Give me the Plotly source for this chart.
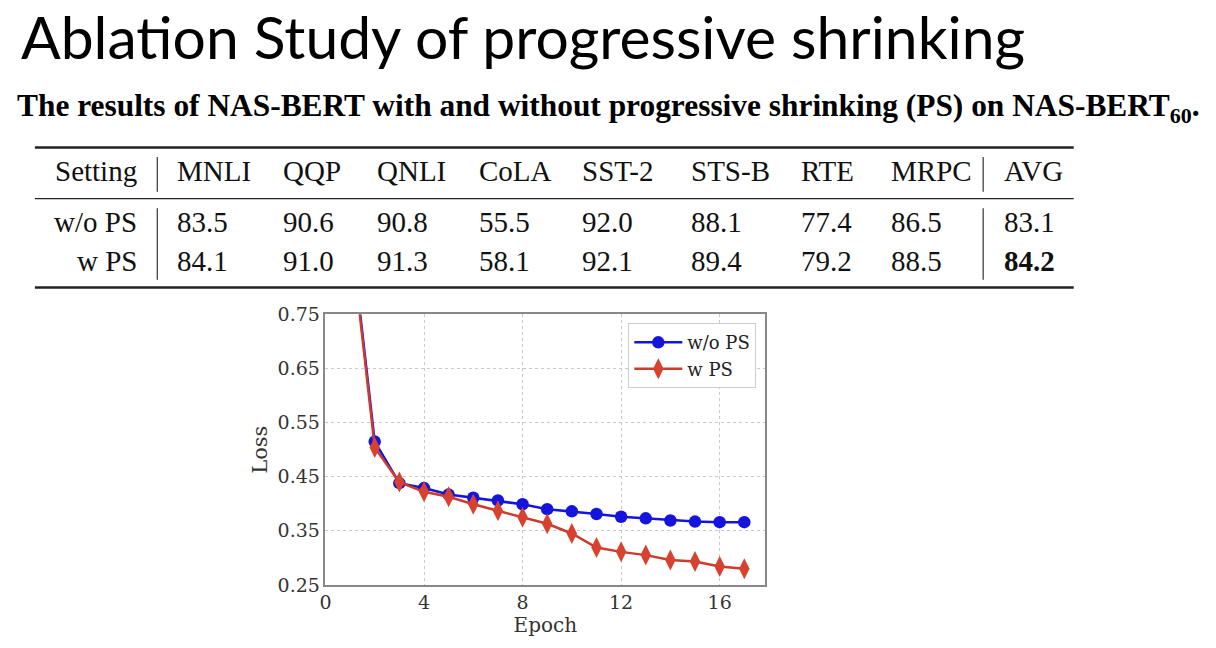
import plotly.graph_objects as go

# =========================
# DADES
# =========================
epochs = list(range(1, 18))
loss_wo_ps = [0.915, 0.515, 0.438, 0.429, 0.417, 0.411, 0.406, 0.399, 0.390,
              0.386, 0.381, 0.376, 0.373, 0.369, 0.367, 0.366, 0.366]
loss_w_ps = [0.910, 0.504, 0.440, 0.422, 0.413, 0.399, 0.387, 0.375, 0.363,
             0.345, 0.319, 0.311, 0.305, 0.296, 0.293, 0.284, 0.280]

table_tasks = ["MNLI", "QQP", "QNLI", "CoLA", "SST-2", "STS-B", "RTE", "MRPC", "AVG"]
row_names = ["w/o PS", "w PS"]
scores_wo_ps = ["83.5", "90.6", "90.8", "55.5", "92.0", "88.1", "77.4", "86.5", "83.1"]
scores_w_ps = ["84.1", "91.0", "91.3", "58.1", "92.1", "89.4", "79.2", "88.5", "84.2"]

# la pàgina té 8px de marge al body: la figura omple la resta de la finestra
W, H = 1208, 640
OFF = 8
SERIF = "Liberation Serif"
MPL = "DejaVu Serif"


def px_x(v):
    return (v - OFF) / W


def px_y(v):
    return 1 - (v - OFF) / H


# =========================
# GRÀFIC
# =========================
fig = go.Figure()

fig.add_trace(go.Scatter(
    x=epochs, y=loss_wo_ps, name="w/o PS", mode="lines+markers",
    line=dict(color="#1414dc", width=2.5),
    marker=dict(symbol="circle", size=12.5, color="#1414dc"),
))
fig.add_trace(go.Scatter(
    x=epochs, y=loss_w_ps, name="w PS", mode="lines+markers",
    line=dict(color="#cc3b2c", width=2.5),
    marker=dict(symbol="diamond-tall", size=15, color="#d8412f"),
))

grid = dict(showgrid=True, gridcolor="#c8c8c8", griddash="3px,3px", gridwidth=1,
            showline=True, linecolor="#888", linewidth=1.5, mirror=True,
            zeroline=False, ticks="")

fig.update_xaxes(
    domain=[px_x(321), px_x(763)], range=[0, 17.85],
    tickvals=[0, 4, 8, 12, 16], tickfont=dict(family=MPL, size=19, color="#333"),
    title=dict(text="Epoch", font=dict(family=MPL, size=20, color="#333"), standoff=0),
    **grid,
)
fig.update_yaxes(
    domain=[px_y(594), px_y(314)], range=[0.25, 0.75],
    tickvals=[0.25, 0.35, 0.45, 0.55, 0.65, 0.75], tickformat=".2f",
    tickfont=dict(family=MPL, size=19, color="#333"),
    title=dict(text="Loss", font=dict(family=MPL, size=21, color="#333"), standoff=4),
    **grid,
)

# =========================
# TÍTOL I TAULA
# =========================
ann = []
ann.append(dict(x=px_x(13), y=px_y(26), text="Ablation Study of progressive shrinking",
                xanchor="left", yanchor="middle",
                font=dict(family="Lato", size=58.8, color="#000")))
ann.append(dict(x=px_x(9), y=px_y(100),
                text="<b>The results of NAS-BERT with and without progressive shrinking (PS) "
                     "on NAS-BERT<sub>60</sub>.</b>",
                xanchor="left", yanchor="middle",
                font=dict(family=SERIF, size=31.4, color="#000")))

col_x = [170, 276, 371, 473, 577, 686, 797, 887, 1001]
row_y = [165, 218, 259]
cell_font = dict(family=SERIF, size=29, color="#111")

ann.append(dict(x=px_x(134), y=px_y(row_y[0]), text="Setting", xanchor="right",
                yanchor="middle", font=cell_font))
for cx, task in zip(col_x, table_tasks):
    ann.append(dict(x=px_x(cx), y=px_y(row_y[0]), text=task, xanchor="left",
                    yanchor="middle", font=cell_font))

for ry, name, vals in zip(row_y[1:], row_names, [scores_wo_ps, scores_w_ps]):
    ann.append(dict(x=px_x(134), y=px_y(ry), text=name, xanchor="right",
                    yanchor="middle", font=cell_font))
    for cx, v in zip(col_x, vals):
        txt = v
        if name == "w PS" and cx == col_x[-1]:
            txt = "<b>" + v + "</b>"
        ann.append(dict(x=px_x(cx), y=px_y(ry), text=txt, xanchor="left",
                        yanchor="middle", font=cell_font))

for a in ann:
    a.update(xref="paper", yref="paper", showarrow=False)

shapes = []
for yy, w in [(141, 2.5), (194, 1.3), (286, 2.5)]:
    shapes.append(dict(type="line", xref="paper", yref="paper",
                       x0=px_x(29), x1=px_x(1073), y0=px_y(yy), y1=px_y(yy),
                       line=dict(color="#222", width=w)))
for xx in [152, 982]:
    for y0, y1 in [(151, 187), (204, 278)]:
        shapes.append(dict(type="line", xref="paper", yref="paper",
                           x0=px_x(xx), x1=px_x(xx), y0=px_y(y0), y1=px_y(y1),
                           line=dict(color="#333", width=1.2)))

fig.update_layout(
    width=W, height=H, margin=dict(l=0, r=0, t=0, b=0),
    paper_bgcolor="white", plot_bgcolor="white",
    annotations=ann, shapes=shapes,
    legend=dict(x=px_x(754), y=px_y(323), xanchor="right", yanchor="top",
                bgcolor="white", bordercolor="#cccccc", borderwidth=1,
                itemwidth=48,
                font=dict(family=MPL, size=18, color="#222")),
)

fig.write_html("out.html")
